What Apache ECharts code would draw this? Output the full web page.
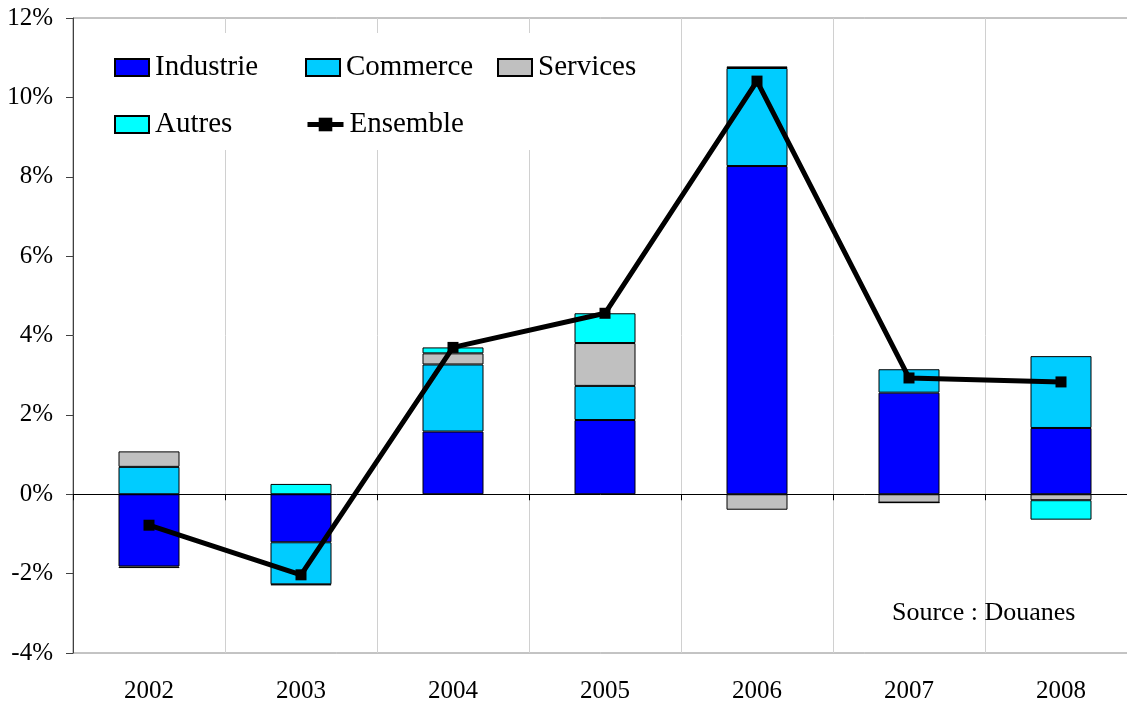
<!DOCTYPE html>
<html>
<head>
<meta charset="utf-8">
<script src="https://cdn.jsdelivr.net/npm/echarts@6/dist/echarts.min.js"></script>
<style>html,body{margin:0;padding:0;background:#fff}#c{width:1127px;height:704px}</style>
</head>
<body>
<div id="c"></div>
<script>
var years = ['2002','2003','2004','2005','2006','2007','2008'];
var industrie = [-1.82, -1.21, 1.58, 1.87, 8.27, 2.56, 1.67];
var commerce  = [0.69, -1.06, 1.69, 0.86, 2.47, 0.59, 1.81];
var services  = [0.39, -0.02, 0.28, 1.08, -0.39, -0.21, -0.15];
var autres    = [-0.04, 0.26, 0.15, 0.75, 0.04, 0, -0.49];
var ensemble  = [-0.78, -2.03, 3.70, 4.56, 10.41, 2.93, 2.83];

var FONT = 'Liberation Serif, Times New Roman, serif';
var chart = echarts.init(document.getElementById('c'), null, {renderer: 'canvas'});

function bar(name, data, color) {
  return {
    name: name, type: 'bar', stack: 'tot', data: data, barWidth: 61,
    xAxisIndex: 0,
    itemStyle: {color: color, borderColor: '#000', borderWidth: 1},
    emphasis: {disabled: true}
  };
}
function leg(name, left, top, extra) {
  var o = {
    data: [{name: name, icon: name === 'Ensemble' ? undefined : 'rect'}],
    left: left, top: top, padding: 0, z: 10,
    itemWidth: 34, itemHeight: 17, itemGap: 0,
    textStyle: {fontFamily: FONT, fontSize: 29, color: '#000', padding: [0,0,0,1]},
    selectedMode: false
  };
  if (extra) for (var k in extra) o[k] = extra[k];
  return o;
}

chart.setOption({
  animation: false,
  backgroundColor: '#fff',
  grid: {left: 73, width: 1064, top: 18, bottom: 51, outerBoundsMode: 'none', containLabel: false,
         show: true, borderColor: '#888', borderWidth: 1, backgroundColor: 'transparent'},
  legend: [
    leg('Industrie', 114, 53),
    leg('Commerce', 305, 53),
    leg('Services', 497, 53),
    leg('Autres', 114, 110),
    leg('Ensemble', 305, 110, {lineStyle: {width: 5, color: '#000'}, itemWidth: 36})
  ],
  xAxis: [
    {
      type: 'category', data: years, position: 'bottom',
      axisLine: {onZero: true, lineStyle: {color: '#000', width: 1}},
      axisTick: {show: true, inside: false, length: 6, lineStyle: {color: '#000'}},
      axisLabel: {show: false},
      splitLine: {show: true, lineStyle: {color: '#d0d0d0', width: 1}}
    },
    {
      type: 'category', data: years, position: 'bottom',
      axisLine: {onZero: false, show: false},
      axisTick: {show: false},
      axisLabel: {show: true, margin: 26, fontFamily: FONT, fontSize: 25, color: '#000'},
      splitLine: {show: false}
    }
  ],
  yAxis: {
    type: 'value', min: -4, max: 12, interval: 2,
    axisLine: {show: true, lineStyle: {color: '#404040', width: 1}},
    axisTick: {show: true, length: 7, lineStyle: {color: '#404040'}},
    axisLabel: {formatter: '{value}%', margin: 20, fontFamily: FONT, fontSize: 25, color: '#000'},
    splitLine: {show: false}
  },
  series: [
    bar('Industrie', industrie, '#0000FF'),
    bar('Commerce', commerce, '#00CCFF'),
    bar('Services', services, '#C0C0C0'),
    bar('Autres', autres, '#00FFFF'),
    {
      name: 'Ensemble', type: 'line', data: ensemble, xAxisIndex: 0,
      symbol: 'rect', symbolSize: 11, showSymbol: true,
      lineStyle: {color: '#000', width: 5},
      itemStyle: {color: '#000'},
      emphasis: {disabled: true}, z: 5
    }
  ],
  graphic: [
    {type: 'rect', z: 1, shape: {x: 90, y: 33, width: 560, height: 117}, style: {fill: '#fff'}},
    {type: 'text', z: 10, left: 892, top: 600, style: {text: 'Source : Douanes', font: '26px ' + FONT, fill: '#000'}}
  ]
});
</script>
</body>
</html>
